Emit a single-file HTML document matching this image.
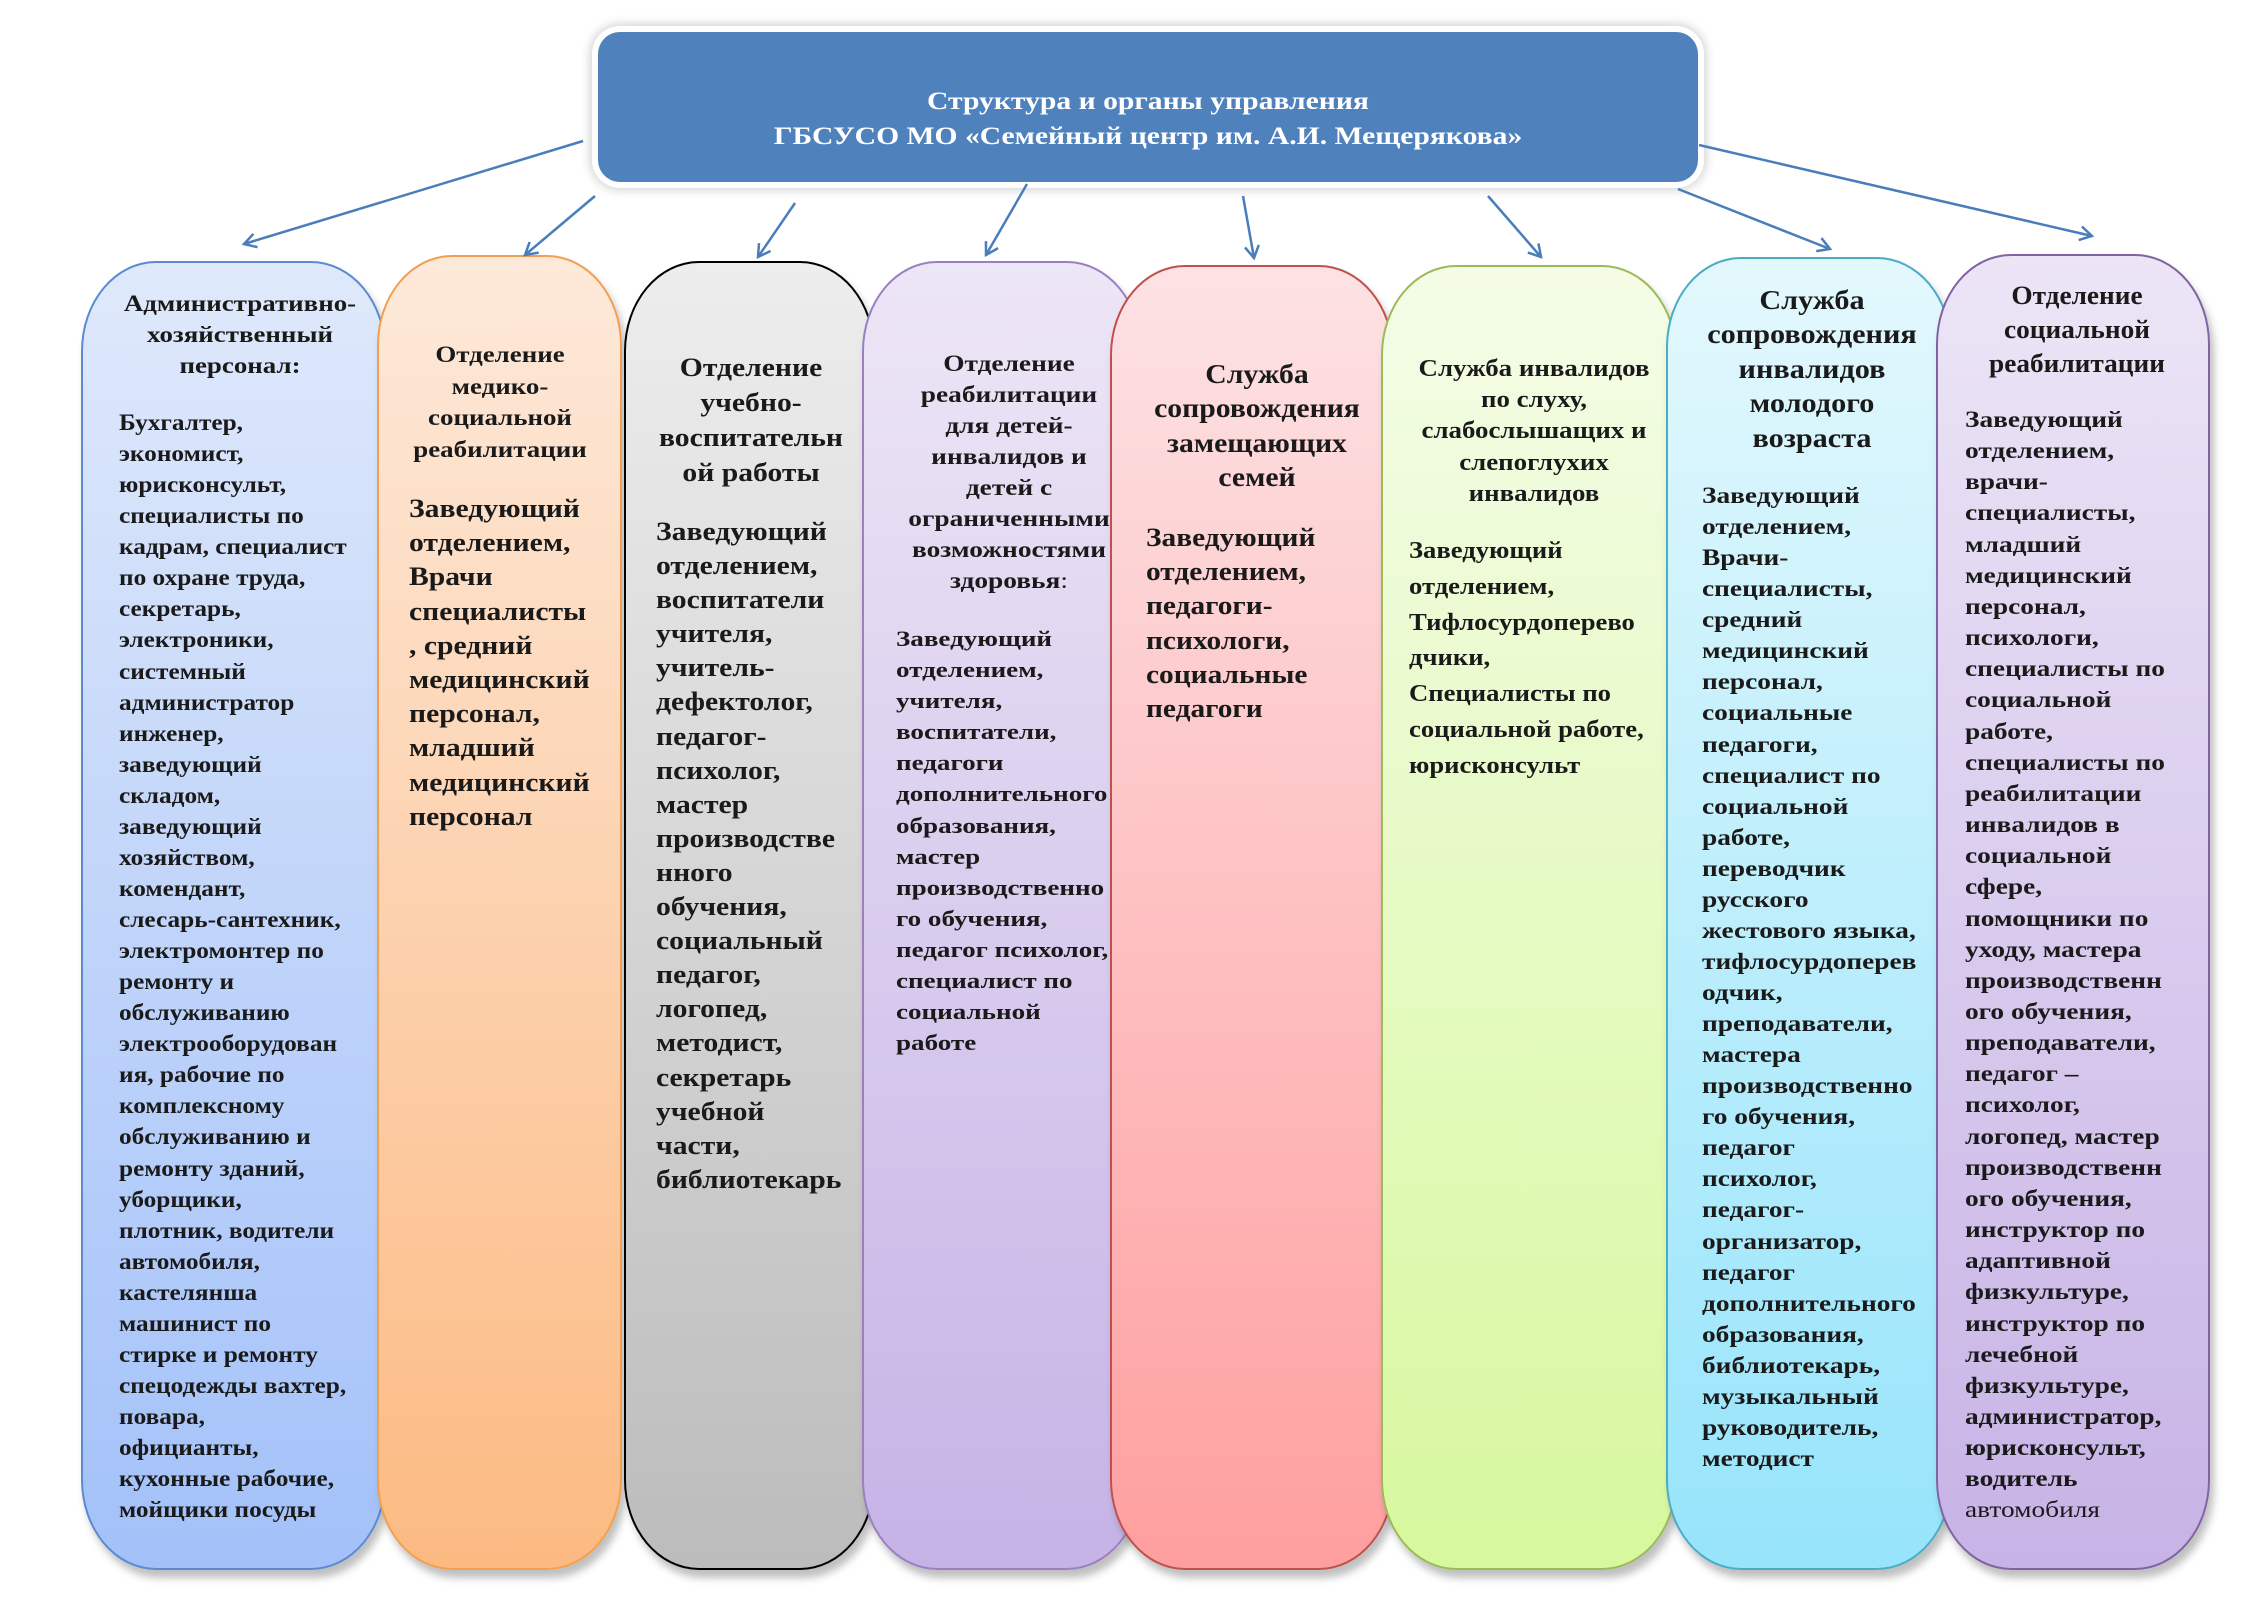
<!DOCTYPE html>
<html><head><meta charset="utf-8"><style>
body{margin:0;width:2263px;height:1600px;background:#fff;position:relative;overflow:hidden;font-family:"Liberation Serif",serif;font-weight:bold;color:#1a1a1a}
.col{position:absolute;box-sizing:border-box;border:2px solid;border-radius:75px/90px;box-shadow:4px 8px 8px rgba(0,0,0,0.25)}
.t{position:absolute;white-space:nowrap;transform-origin:0 0}
.c{text-align:center;transform-origin:50% 0}
#top{position:absolute;left:598px;top:32px;width:1100px;height:150px;background:#4f81bd;border-radius:22px;box-shadow:0 0 0 6px #fff,0 0 10px 8px rgba(0,0,0,0.18)}
</style></head><body>
<div id="top"></div>
<div class="t c" style="left:1148px;top:84px;color:#fff;font-size:25px;line-height:35px;transform:translateX(-50%) scaleX(1.185)">Структура и органы управления<br>ГБСУСО МО «Семейный центр им. А.И. Мещерякова»</div>

<div class="col" style="left:81px;top:261px;width:305px;height:1309px;background:linear-gradient(#dfe9fb,#a3c1f9);border-color:#5b8ad0"></div>
<div class="col" style="left:377px;top:255px;width:245px;height:1315px;background:linear-gradient(#fde9da,#fcba82);border-color:#f0a050"></div>
<div class="col" style="left:624px;top:261px;width:251px;height:1309px;background:linear-gradient(#ededed,#bcbcbc);border-color:#000"></div>
<div class="col" style="left:862px;top:261px;width:280px;height:1309px;background:linear-gradient(#ede6f6,#c5b3e6);border-color:#9a80c0"></div>
<div class="col" style="left:1110px;top:265px;width:284px;height:1305px;background:linear-gradient(#fde2e4,#fe9f9f);border-color:#c0504d"></div>
<div class="col" style="left:1381px;top:265px;width:296px;height:1305px;background:linear-gradient(#f4fce7,#d7f89e);border-color:#9bbb59"></div>
<div class="col" style="left:1666px;top:257px;width:286px;height:1313px;background:linear-gradient(#e3f8fd,#97e4fb);border-color:#4bacc6"></div>
<div class="col" style="left:1936px;top:254px;width:274px;height:1316px;background:linear-gradient(#ece5f6,#c7b3e6);border-color:#8064a2"></div>

<svg width="2263" height="1600" style="position:absolute;left:0;top:0" fill="none" stroke="#4a7ebb" stroke-width="2.5">
<defs><marker id="a" markerWidth="16" markerHeight="16" refX="14" refY="8" orient="auto" markerUnits="userSpaceOnUse"><path d="M2 1 L14 8 L2 15" stroke="#4a7ebb" stroke-width="2.5" fill="none"/></marker></defs>
<line x1="583" y1="141" x2="244" y2="244" marker-end="url(#a)"/>
<line x1="595" y1="196" x2="525" y2="255" marker-end="url(#a)"/>
<line x1="795" y1="203" x2="758" y2="257" marker-end="url(#a)"/>
<line x1="1027" y1="184" x2="986" y2="255" marker-end="url(#a)"/>
<line x1="1243" y1="196" x2="1254" y2="258" marker-end="url(#a)"/>
<line x1="1488" y1="196" x2="1541" y2="257" marker-end="url(#a)"/>
<line x1="1678" y1="189" x2="1830" y2="249" marker-end="url(#a)"/>
<line x1="1699" y1="145" x2="2092" y2="236" marker-end="url(#a)"/>
</svg>

<div class="t c" style="left:240px;top:288px;font-size:23px;line-height:31px;transform:translateX(-50%) scaleX(1.17)">Административно-<br>хозяйственный<br>персонал:</div>
<div class="t" style="left:119px;top:407px;font-size:23px;line-height:31.07px;transform:scaleX(1.1)">Бухгалтер,<br>экономист,<br>юрисконсульт,<br>специалисты по<br>кадрам, специалист<br>по охране труда,<br>секретарь,<br>электроники,<br>системный<br>администратор<br>инженер,<br>заведующий<br>складом,<br>заведующий<br>хозяйством,<br>комендант,<br>слесарь-сантехник,<br>электромонтер по<br>ремонту и<br>обслуживанию<br>электрооборудован<br>ия, рабочие по<br>комплексному<br>обслуживанию и<br>ремонту зданий,<br>уборщики,<br>плотник, водители<br>автомобиля,<br>кастелянша<br>машинист по<br>стирке и ремонту<br>спецодежды вахтер,<br>повара,<br>официанты,<br>кухонные рабочие,<br>мойщики посуды</div>

<div class="t c" style="left:500px;top:339px;font-size:23px;line-height:31.5px;transform:translateX(-50%) scaleX(1.17)">Отделение<br>медико-<br>социальной<br>реабилитации</div>
<div class="t" style="left:409px;top:492px;font-size:26px;line-height:34.2px;transform:scaleX(1.14)">Заведующий<br>отделением,<br>Врачи<br>специалисты<br>, средний<br>медицинский<br>персонал,<br>младший<br>медицинский<br>персонал</div>

<div class="t c" style="left:751px;top:350px;font-size:26px;line-height:35px;transform:translateX(-50%) scaleX(1.14)">Отделение<br>учебно-<br>воспитательн<br>ой работы</div>
<div class="t" style="left:656px;top:515px;font-size:26px;line-height:34.1px;transform:scaleX(1.14)">Заведующий<br>отделением,<br>воспитатели<br>учителя,<br>учитель-<br>дефектолог,<br>педагог-<br>психолог,<br>мастер<br>производстве<br>нного<br>обучения,<br>социальный<br>педагог,<br>логопед,<br>методист,<br>секретарь<br>учебной<br>части,<br>библиотекарь</div>

<div class="t c" style="left:1009px;top:348px;font-size:23px;line-height:31px;transform:translateX(-50%) scaleX(1.19)">Отделение<br>реабилитации<br>для детей-<br>инвалидов и<br>детей с<br>ограниченными<br>возможностями<br>здоровья<span style="font-weight:normal">:</span></div>
<div class="t" style="left:896px;top:623px;font-size:22px;line-height:31.1px;transform:scaleX(1.23)">Заведующий<br>отделением,<br>учителя,<br>воспитатели,<br>педагоги<br>дополнительного<br>образования,<br>мастер<br>производственно<br>го обучения,<br>педагог психолог,<br>специалист по<br>социальной<br>работе</div>

<div class="t c" style="left:1257px;top:357px;font-size:27px;line-height:34.3px;transform:translateX(-50%) scaleX(1.1)">Служба<br>сопровождения<br>замещающих<br>семей</div>
<div class="t" style="left:1146px;top:521px;font-size:26px;line-height:34.2px;transform:scaleX(1.13)">Заведующий<br>отделением,<br>педагоги-<br>психологи,<br>социальные<br>педагоги</div>

<div class="t c" style="left:1534px;top:354px;font-size:24px;line-height:31.2px;transform:translateX(-50%) scaleX(1.12)">Служба инвалидов<br>по слуху,<br>слабослышащих и<br>слепоглухих<br>инвалидов</div>
<div class="t" style="left:1409px;top:534px;font-size:24px;line-height:35.8px;transform:scaleX(1.11)">Заведующий<br>отделением,<br>Тифлосурдоперево<br>дчики,<br>Специалисты по<br>социальной работе,<br>юрисконсульт</div>

<div class="t c" style="left:1812px;top:283px;font-size:27px;line-height:34.4px;transform:translateX(-50%) scaleX(1.12)">Служба<br>сопровождения<br>инвалидов<br>молодого<br>возраста</div>
<div class="t" style="left:1702px;top:480px;font-size:23px;line-height:31.06px;transform:scaleX(1.19)">Заведующий<br>отделением,<br>Врачи-<br>специалисты,<br>средний<br>медицинский<br>персонал,<br>социальные<br>педагоги,<br>специалист по<br>социальной<br>работе,<br>переводчик<br>русского<br>жестового языка,<br>тифлосурдоперев<br>одчик,<br>преподаватели,<br>мастера<br>производственно<br>го обучения,<br>педагог<br>психолог,<br>педагог-<br>организатор,<br>педагог<br>дополнительного<br>образования,<br>библиотекарь,<br>музыкальный<br>руководитель,<br>методист</div>

<div class="t c" style="left:2077px;top:279px;font-size:26px;line-height:34px;transform:translateX(-50%) scaleX(1.05)">Отделение<br>социальной<br>реабилитации</div>
<div class="t" style="left:1965px;top:404px;font-size:23px;line-height:31.15px;transform:scaleX(1.19)">Заведующий<br>отделением,<br>врачи-<br>специалисты,<br>младший<br>медицинский<br>персонал,<br>психологи,<br>специалисты по<br>социальной<br>работе,<br>специалисты по<br>реабилитации<br>инвалидов в<br>социальной<br>сфере,<br>помощники по<br>уходу, мастера<br>производственн<br>ого обучения,<br>преподаватели,<br>педагог –<br>психолог,<br>логопед, мастер<br>производственн<br>ого обучения,<br>инструктор по<br>адаптивной<br>физкультуре,<br>инструктор по<br>лечебной<br>физкультуре,<br>администратор,<br>юрисконсульт,<br>водитель<br><span style="font-weight:normal">автомобиля</span></div>
</body></html>
